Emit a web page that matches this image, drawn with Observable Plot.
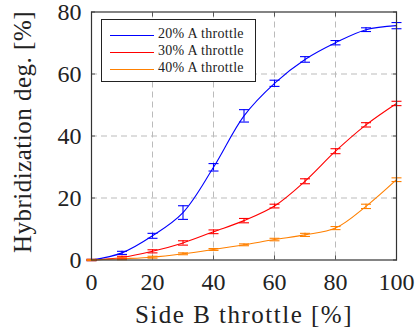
<!DOCTYPE html>
<html><head><meta charset="utf-8">
<script src="https://cdn.jsdelivr.net/npm/d3@7"></script>
<script src="https://cdn.jsdelivr.net/npm/@observablehq/plot@0.6"></script>
<style>
body{margin:0;background:#fff;}
.xlab text{letter-spacing:1.5px;}
.ylab text{letter-spacing:0.5px;}
</style></head><body>
<div id="wrap" style="position:relative;width:417px;height:333px;font-family:'Liberation Serif',serif;"></div>
<script>
const throttleB = [0,10,20,30,40,50,60,70,80,90,100];
const seriesLabels = ["20% A throttle","30% A throttle","40% A throttle"];
const seriesColors = ["#0000ff","#ff0000","#ff8000"];
const hyb20 = [0,2.3,7.8,15.3,29.9,46.5,57.0,64.7,70.1,74.3,75.6];
const err20 = [0.2,0.5,0.8,2.2,1.2,2.0,1.0,0.9,0.7,0.6,1.0];
const hyb30 = [0,0.8,2.8,5.5,9.1,12.7,17.4,25.4,35.1,43.6,50.5];
const err30 = [0.2,0.4,0.5,0.7,0.6,0.7,0.6,0.8,0.8,0.7,0.7];
const hyb40 = [0,0.4,0.9,2.0,3.4,4.9,6.6,8.1,10.3,17.3,25.9];
const err40 = [0.2,0.3,0.3,0.3,0.3,0.3,0.4,0.5,0.5,0.7,0.6];
const xTicks = [0,20,40,60,80,100];
const yTicks = [0,20,40,60,80];
const xLabel = "Side B throttle [%]";
const yLabel = "Hybridization deg. [%]";

const values = [hyb20,hyb30,hyb40];
const errors = [err20,err30,err40];
const rows = [];
seriesLabels.forEach((s,i)=>throttleB.forEach((x,j)=>rows.push({series:s,x,y:values[i][j],e:errors[i][j]})));

const cap = {draw(ctx){ctx.moveTo(-5,0);ctx.lineTo(5,0);}};
const font = "Liberation Serif";

const chart = Plot.plot({
  width:417, height:333,
  marginLeft:91, marginRight:21, marginTop:11.5, marginBottom:73.5,
  style:{fontFamily:font, background:"#fff", color:"#222"},
  x:{domain:[0,100]},
  y:{domain:[0,80]},
  color:{domain:seriesLabels, range:seriesColors},
  marks:[
    Plot.gridX(xTicks.slice(1,-1),{stroke:"#bbb",strokeOpacity:1,strokeDasharray:"6,4"}),
    Plot.gridY(yTicks.slice(1,-1),{stroke:"#bbb",strokeOpacity:1,strokeDasharray:"6,4"}),
    Plot.axisX({ticks:xTicks, tickSize:0, tickPadding:13, fontSize:24, fontFamily:font, label:null}),
    Plot.axisY({ticks:yTicks, tickSize:0, tickPadding:10, fontSize:24, fontFamily:font, label:null}),
    Plot.axisX({ticks:xTicks, anchor:"bottom", tickSize:-4, text:null, label:null, stroke:"#555"}),
    Plot.axisX({ticks:xTicks, anchor:"top", tickSize:-4, text:null, label:null, stroke:"#555"}),
    Plot.axisY({ticks:yTicks, anchor:"left", tickSize:-4, text:null, label:null, stroke:"#555"}),
    Plot.axisY({ticks:yTicks, anchor:"right", tickSize:-4, text:null, label:null, stroke:"#555"}),
    Plot.line(rows,{x:"x",y:"y",z:"series",stroke:"series",strokeWidth:1.1,curve:"catmull-rom"}),
    Plot.ruleX(rows,{x:"x",y1:d=>d.y-d.e,y2:d=>d.y+d.e,stroke:"series",strokeWidth:1.1}),
    Plot.dot(rows,{x:"x",y:d=>d.y-d.e,symbol:cap,stroke:"series",strokeWidth:1.1,fill:"none"}),
    Plot.dot(rows,{x:"x",y:d=>d.y+d.e,symbol:cap,stroke:"series",strokeWidth:1.1,fill:"none"}),
    Plot.frame({stroke:"#333",strokeWidth:1.2}),
    Plot.text([xLabel],{frameAnchor:"bottom",dy:55,lineAnchor:"middle",fontSize:25,fontFamily:font,fill:"#222",className:"xlab"}),
    Plot.text([yLabel],{frameAnchor:"left",dx:-69,dy:-4,rotate:-90,lineAnchor:"middle",textAnchor:"middle",fontSize:25,fontFamily:font,fill:"#222",className:"ylab"})
  ]
});
const wrap = document.getElementById("wrap");
wrap.appendChild(chart);
const lg = document.createElement("div");
lg.setAttribute("style","position:absolute;left:101px;top:19px;width:155px;height:63px;border:1px solid #222;background:#fff;box-sizing:border-box;font-size:14px;letter-spacing:0.3px;color:#222;font-family:'Liberation Serif',serif;");
seriesLabels.forEach((s,i)=>{
  const r = document.createElement("div");
  r.setAttribute("style",`position:absolute;left:0;top:${7+i*17}px;height:16px;width:100%;`);
  const sw = document.createElement("div");
  sw.setAttribute("style",`position:absolute;left:8px;top:8px;width:44px;height:1px;background:${seriesColors[i]};`);
  const t = document.createElement("div");
  t.setAttribute("style","position:absolute;left:56px;top:-1px;white-space:nowrap;");
  t.textContent = s;
  r.appendChild(sw); r.appendChild(t); lg.appendChild(r);
});
wrap.appendChild(lg);
</script>
</body></html>
